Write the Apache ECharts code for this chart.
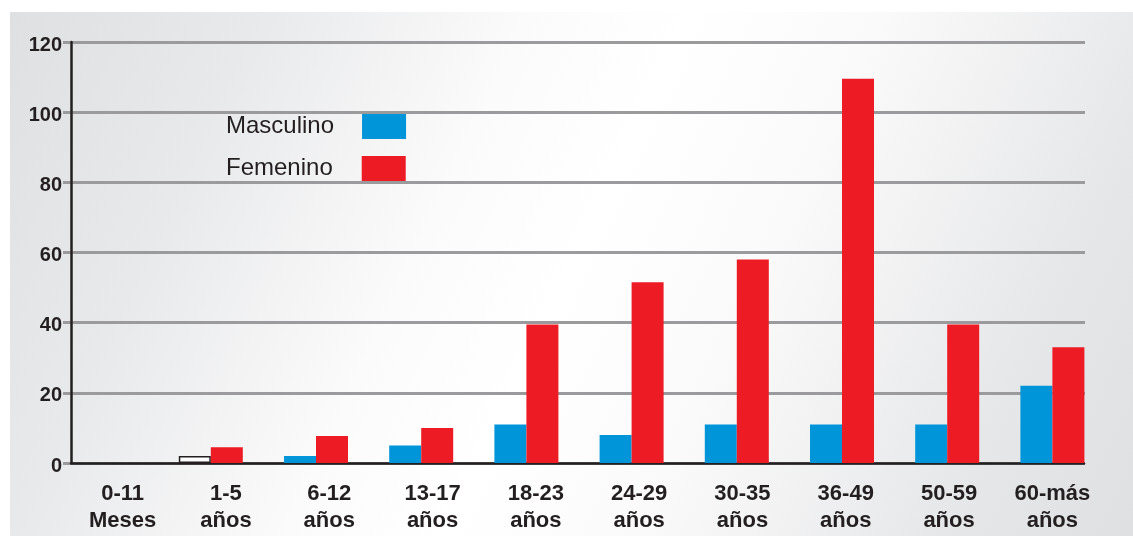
<!DOCTYPE html>
<html>
<head>
<meta charset="utf-8">
<script src="https://cdn.jsdelivr.net/npm/echarts@6/dist/echarts.min.js"></script>
<style>
html,body{margin:0;padding:0;background:#fff;}
#c{width:1133px;height:536px;}
</style>
</head>
<body>
<div id="c"></div>
<script>
const categories = ['0-11\nMeses','1-5\naños','6-12\naños','13-17\naños','18-23\naños','24-29\naños','30-35\naños','36-49\naños','50-59\naños','60-más\naños'];
const masculino = [0, 2, 2, 5, 11, 8, 11, 11, 11, 22];
const femenino = [0, 4.5, 7.7, 10, 39.5, 51.5, 58, 109.5, 39.5, 33];
const yTicks = [0, 20, 40, 60, 80, 100, 120];

(function(){
const BLUE = '#0094d9', RED = '#ed1c24';
const font = '"Liberation Sans", Arial, sans-serif';
const yMin = yTicks[0], yMax = yTicks[yTicks.length-1], yStep = yTicks[1]-yTicks[0];

const chart = echarts.init(document.getElementById('c'));
const gTop = 42, gBottom = 73;
const yBase = {type:'value', min:yMin, max:yMax, interval:yStep};

chart.setOption({
  backgroundColor:'#ffffff',
  animation:false,
  graphic:[{
    type:'rect', z:-10, silent:true,
    shape:{x:10, y:12, width:1123, height:524},
    style:{fill:new echarts.graphic.LinearGradient(0, 0, 1, 1, [
      {offset:0, color:'#dfe0e2'},
      {offset:0.18, color:'#e8e9eb'},
      {offset:0.38, color:'#fbfbfb'},
      {offset:0.5, color:'#ffffff'},
      {offset:0.64, color:'#fafafa'},
      {offset:0.86, color:'#e6e7e9'},
      {offset:1, color:'#dfe0e2'}
    ])}
  }],
  legend:[
    {data:['Masculino'], left:226, top:114, padding:0, orient:'vertical', align:'right',
     itemWidth:44, itemHeight:25, icon:'rect',
     textStyle:{fontSize:24, color:'#231f20', fontFamily:font, padding:[0,23,0,0]}},
    {data:['Femenino'], left:226, top:156, padding:0, orient:'vertical', align:'right',
     itemWidth:44, itemHeight:25, icon:'rect',
     textStyle:{fontSize:24, color:'#231f20', fontFamily:font, padding:[0,24,0,0]}}
  ],
  grid:[
    {left:53, right:28, top:gTop, bottom:gBottom},
    {left:71, right:29, top:gTop, bottom:gBottom},
    {left:71, right:49, top:gTop, bottom:gBottom},
    {left:63, right:48, top:gTop, bottom:gBottom}
  ],
  xAxis:[
    {gridIndex:0, type:'category', data:categories, axisLine:{show:false}, axisTick:{show:false}, axisLabel:{show:false}},
    {gridIndex:1, type:'category', data:categories, axisLine:{show:false}, axisTick:{show:false},
     axisLabel:{show:true, interval:0, margin:17, fontSize:22, fontWeight:'bold', lineHeight:27, color:'#231f20', fontFamily:font}},
    {gridIndex:2, type:'category', data:categories, axisLine:{show:true, lineStyle:{color:'#231f20', width:2.5}}, axisTick:{show:false}, axisLabel:{show:false}},
    {gridIndex:3, type:'category', data:categories, axisLine:{show:false}, axisTick:{show:false}, axisLabel:{show:false}}
  ],
  yAxis:[
    Object.assign({gridIndex:0, axisLine:{show:false}, axisTick:{show:false}, axisLabel:{show:false}, splitLine:{show:false}}, yBase),
    Object.assign({gridIndex:1, axisLine:{show:false}, axisTick:{show:false}, axisLabel:{show:false}, splitLine:{show:false}}, yBase),
    Object.assign({gridIndex:2, axisLine:{show:true, lineStyle:{color:'#231f20', width:2.5}}, axisTick:{show:false},
      axisLabel:{show:true, margin:9, fontSize:20, fontWeight:'bold', color:'#231f20', fontFamily:font,
                 verticalAlign:'top', lineHeight:6},
      splitLine:{show:false}}, yBase),
    Object.assign({gridIndex:3, axisLine:{show:false}, axisTick:{show:false}, axisLabel:{show:false},
      splitLine:{show:true, lineStyle:{color:'#9b9b9d', width:3}}}, yBase)
  ],
  series:[
    {name:'Masculino', type:'bar', xAxisIndex:0, yAxisIndex:0, barWidth:32, barGap:'0%',
     itemStyle:{color:BLUE},
     data:masculino.map((v,i)=> i===1 ? {value:v, itemStyle:{color:'#ffffff', borderColor:'#231f20', borderWidth:1.5}} : v)},
    {name:'Femenino', type:'bar', xAxisIndex:0, yAxisIndex:0, barWidth:32, barGap:'0%',
     itemStyle:{color:RED}, data:femenino}
  ]
});
})();
</script>
</body>
</html>
